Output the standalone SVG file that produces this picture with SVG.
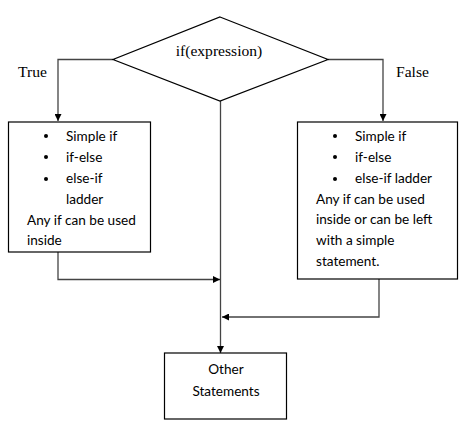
<svg xmlns="http://www.w3.org/2000/svg" width="468" height="440" viewBox="0 0 468 440">
<defs>
<marker id="ah" markerWidth="7" markerHeight="7" refX="7" refY="3.5" orient="auto" markerUnits="userSpaceOnUse">
<path d="M0,0 L7,3.5 L0,7 Z" fill="#000"/>
</marker>
<style>
.shape{fill:#fff;stroke:#000;stroke-width:1.2}
.conn{fill:none;stroke:#444;stroke-width:1.3}
.serif{font-family:"Liberation Serif","Times New Roman",serif;font-size:15.6px;fill:#000}
.body{font-family:Lato,"Open Sans","Liberation Sans",sans-serif;font-size:13.6px;fill:#000}
.bul{fill:#000}
</style>
</defs>
<rect width="468" height="440" fill="#fff"/>
<g id="connectors">
<polyline class="conn" points="113,59.5 58,59.5 58,121" marker-end="url(#ah)"/>
<polyline class="conn" points="328,59.5 383,59.5 383,121" marker-end="url(#ah)"/>
<polyline class="conn" points="220.5,101 220.5,353" marker-end="url(#ah)"/>
<polyline class="conn" points="58,252 58,279.5 220,279.5" marker-end="url(#ah)"/>
<polyline class="conn" points="379,279 379,317 222,317" marker-end="url(#ah)"/>
</g>
<g id="decision">
<polygon class="shape" points="220,17 328,59.5 220,101 113,59.5"/>
<text class="serif" x="219" y="56" text-anchor="middle">if(expression)</text>
</g>
<g id="label-true">
<text class="serif" x="18" y="77">True</text>
</g>
<g id="label-false">
<text class="serif" x="396" y="77">False</text>
</g>
<g id="true-box">
<rect class="shape" x="8.5" y="122" width="142" height="130"/>
<circle class="bul" cx="46" cy="136" r="2"/>
<circle class="bul" cx="46" cy="157" r="2"/>
<circle class="bul" cx="46" cy="179" r="2"/>
<text class="body" x="66" y="141">Simple if</text>
<text class="body" x="66" y="162">if-else</text>
<text class="body" x="66" y="183">else-if</text>
<text class="body" x="66" y="204">ladder</text>
<text class="body" x="27" y="225">Any if can be used</text>
<text class="body" x="27" y="245">inside</text>
</g>
<g id="false-box">
<rect class="shape" x="297.5" y="122" width="160" height="157"/>
<circle class="bul" cx="335" cy="136" r="2"/>
<circle class="bul" cx="335" cy="157" r="2"/>
<circle class="bul" cx="335" cy="179" r="2"/>
<text class="body" x="355" y="141">Simple if</text>
<text class="body" x="355" y="162">if-else</text>
<text class="body" x="355" y="183">else-if ladder</text>
<text class="body" x="316" y="204">Any if can be used</text>
<text class="body" x="316" y="224">inside or can be left</text>
<text class="body" x="316" y="245">with a simple</text>
<text class="body" x="316" y="266">statement.</text>
</g>
<g id="other">
<rect class="shape" x="164.5" y="353" width="122" height="66"/>
<text class="body" x="226" y="374" text-anchor="middle">Other</text>
<text class="body" x="226" y="396" text-anchor="middle">Statements</text>
</g>
</svg>
